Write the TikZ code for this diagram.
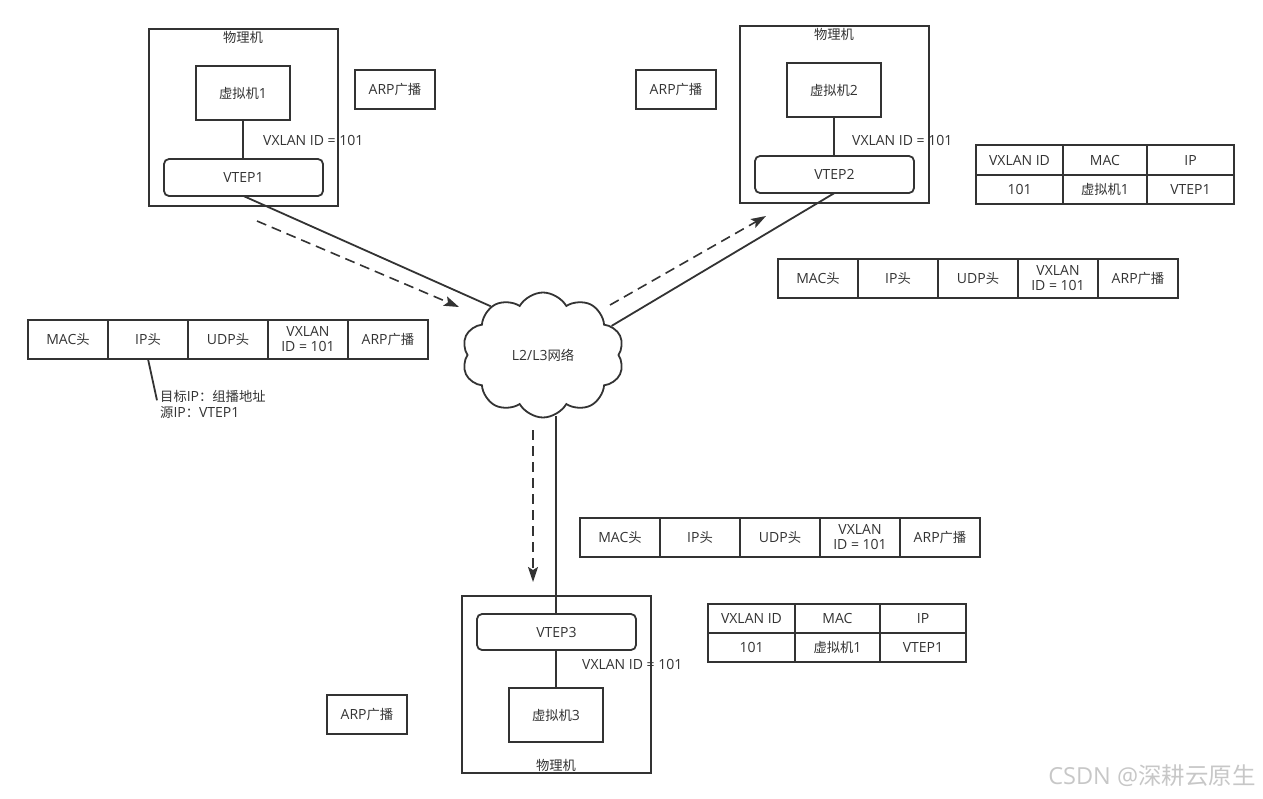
\documentclass[tikz,border=0pt]{standalone}
\usepackage{fontspec}
\setmainfont{Open Sans}
\newfontfamily\cjkf{Noto Sans CJK SC}
\newcommand\zh[1]{{\cjkf\fontsize{13.3}{15}\selectfont #1}}
\usetikzlibrary{shapes.symbols,arrows.meta}
\definecolor{ink}{HTML}{333333}
\begin{document}
\begin{tikzpicture}[x=1pt,y=-1pt,
  every node/.style={font=\fontsize{14}{15}\selectfont, text=ink},
  frame/.style={draw=ink, line width=1.8pt, rectangle, inner sep=0pt, outer sep=0pt},
  pm/.style={frame, minimum width=189pt, minimum height=177pt, anchor=north west},
  vm/.style={frame, minimum width=94pt, minimum height=54pt},
  vtep/.style={frame, rounded corners=5pt, minimum width=159pt, minimum height=37pt},
  arp/.style={frame, minimum width=80pt, minimum height=39pt},
  cell/.style={frame, minimum width=80pt, minimum height=39pt, align=center, font=\fontsize{14}{15}\selectfont},
  tc/.style={frame, minimum height=29.5pt},
  lbl/.style={inner sep=0pt},
  conn/.style={draw=ink, line width=1.8pt},
  flow/.style={draw=ink, line width=1.6pt, dash pattern=on 10pt off 6pt, -{Stealth[length=15pt,width=10pt,inset=3pt]}}
]
\useasboundingbox (0,0) rectangle (1263,798);

% ---------- machine 1
\node[pm] (pm1) at (149,29) {};
\node[lbl] (pm1t) at (243,37) {\zh{物理机}};
\node[vm] (vm1) at (243,93) {\zh{虚拟机}1};
\node[vtep] (vtep1) at (243.5,177.5) {VTEP1};
\node[arp] (arp1) at (395,89.5) {ARP\zh{广播}};
\node[lbl, anchor=west] (id1) at (263,140) {VXLAN ID = 101};
\draw[conn] (vm1.south) -- (vm1.south |- vtep1.north);

% ---------- machine 2
\node[pm] (pm2) at (740,26) {};
\node[lbl] (pm2t) at (834,34) {\zh{物理机}};
\node[vm] (vm2) at (834,90) {\zh{虚拟机}2};
\node[vtep] (vtep2) at (834.5,174.5) {VTEP2};
\node[arp] (arp2) at (676,89.5) {ARP\zh{广播}};
\node[lbl, anchor=west] (id2) at (852,140) {VXLAN ID = 101};
\draw[conn] (vm2.south) -- (vm2.south |- vtep2.north);

% ---------- table 1
\node[tc, minimum width=87pt] (t1a) at (1019.5,160) {VXLAN ID};
\node[tc, minimum width=84pt] (t1b) at (1105,160) {MAC};
\node[tc, minimum width=87pt] (t1c) at (1190.5,160) {IP};
\node[tc, minimum width=87pt] (t1d) at (1019.5,189.5) {101};
\node[tc, minimum width=84pt] (t1e) at (1105,189.5) {\zh{虚拟机}1};
\node[tc, minimum width=87pt] (t1f) at (1190.5,189.5) {VTEP1};

% ---------- packet left
\node[cell] (pl1) at (68,339.5) {MAC\zh{头}};
\node[cell] (pl2) at (148,339.5) {IP\zh{头}};
\node[cell] (pl3) at (228,339.5) {UDP\zh{头}};
\node[cell] (pl4) at (308,339.5) {VXLAN\\ID = 101};
\node[cell] (pl5) at (388,339.5) {ARP\zh{广播}};
\node[lbl, anchor=north west, align=left, font=\fontsize{14}{16}\selectfont] (note) at (160,390) {\zh{目标}IP\zh{：组播地址}\\\zh{源}IP\zh{：}VTEP1};
\draw[conn] (pl2.south) -- ([xshift=-3pt,yshift=4pt]note.west);

% ---------- packet right
\node[cell] (pr1) at (818,278.5) {MAC\zh{头}};
\node[cell] (pr2) at (898,278.5) {IP\zh{头}};
\node[cell] (pr3) at (978,278.5) {UDP\zh{头}};
\node[cell] (pr4) at (1058,278.5) {VXLAN\\ID = 101};
\node[cell] (pr5) at (1138,278.5) {ARP\zh{广播}};

% ---------- packet bottom
\node[cell] (pb1) at (620,537.5) {MAC\zh{头}};
\node[cell] (pb2) at (700,537.5) {IP\zh{头}};
\node[cell] (pb3) at (780,537.5) {UDP\zh{头}};
\node[cell] (pb4) at (860,537.5) {VXLAN\\ID = 101};
\node[cell] (pb5) at (940,537.5) {ARP\zh{广播}};

% ---------- cloud
\node[cloud, draw=ink, line width=1.8pt, cloud puffs=10, cloud puff arc=120, aspect=1.3,
      minimum width=162pt, minimum height=125pt, inner sep=0pt] (net) at (543,355) {L2/L3\zh{网络}};

% ---------- machine 3
\node[pm] (pm3) at (462,596) {};
\node[lbl] (pm3t) at (556,765) {\zh{物理机}};
\node[vtep, minimum height=36pt] (vtep3) at (556.5,632) {VTEP3};
\node[vm] (vm3) at (556,715) {\zh{虚拟机}3};
\node[arp] (arp3) at (367,714.5) {ARP\zh{广播}};
\node[lbl, anchor=west] (id3) at (582,664) {VXLAN ID = 101};
\draw[conn] (vm3.north |- vtep3.south) -- (vm3.north);

% ---------- table 2
\node[tc, minimum width=87pt] (t2a) at (751.5,618.5) {VXLAN ID};
\node[tc, minimum width=85pt] (t2b) at (837.5,618.5) {MAC};
\node[tc, minimum width=86pt] (t2c) at (923,618.5) {IP};
\node[tc, minimum width=87pt] (t2d) at (751.5,647.5) {101};
\node[tc, minimum width=85pt] (t2e) at (837.5,647.5) {\zh{虚拟机}1};
\node[tc, minimum width=86pt] (t2f) at (923,647.5) {VTEP1};

% ---------- links
\draw[conn] (vtep1.south) -- (net.137);
\draw[conn] (net.23) -- (vtep2.south);
\draw[conn] ([yshift=2pt]net.south -| vm3.north) -- (vm3.north |- vtep3.north);

% ---------- flows
\coordinate (f1s) at (257,221);
\coordinate (f1e) at (459,307);
\coordinate (f2s) at (610,305);
\coordinate (f2e) at (766,216);
\coordinate (f3s) at (533,430);
\coordinate (f3e) at (533,582);
\draw[flow] (f1s) -- (f1e);
\draw[flow] (f2s) -- (f2e);
\draw[flow] (f3s) -- (f3e);

% ---------- watermark
\node[lbl, text=black!22, font=\fontsize{23.5}{25}\selectfont] (wm) at (1152,776) {CSDN @\zh{\fontsize{23.5}{25}\selectfont 深耕云原生}};
\end{tikzpicture}
\end{document}
